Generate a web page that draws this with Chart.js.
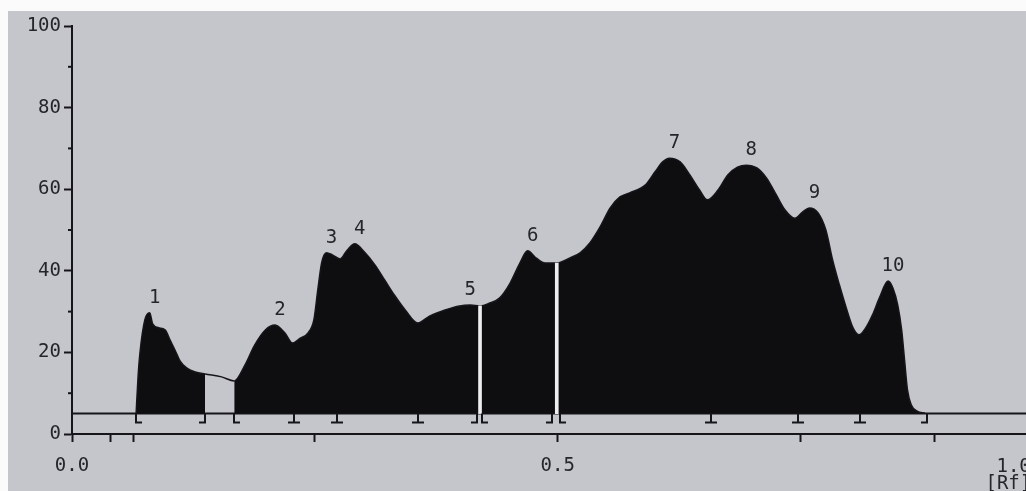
<!DOCTYPE html>
<html>
<head>
<meta charset="utf-8">
<title>Densitogram</title>
<script src="https://cdn.jsdelivr.net/npm/chart.js@4.4.1/dist/chart.umd.min.js"></script>
<style>
  html, body { margin: 0; padding: 0; background: #fbfbfb; overflow: hidden; }
  #wrap { position: absolute; left: 8px; top: 11px; width: 1018px; height: 480px; background: #c5c6cc; }
</style>
</head>
<body>
<div id="wrap"><canvas id="scan" width="1018" height="480"></canvas></div>
<script>
  // scan trace (Rf, intensity)
  const rf = [
    0.066, 0.068, 0.070, 0.075, 0.080, 0.083, 0.090, 0.096, 0.101, 0.106,
    0.111, 0.118, 0.127, 0.137, 0.154, 0.167, 0.178, 0.188, 0.199, 0.209,
    0.219, 0.227, 0.235, 0.243, 0.249, 0.253, 0.257, 0.262, 0.268, 0.276,
    0.283, 0.291, 0.301, 0.312, 0.322, 0.332, 0.343, 0.356, 0.368, 0.384,
    0.399, 0.410, 0.420, 0.430, 0.440, 0.451, 0.461, 0.469, 0.478, 0.487,
    0.499, 0.512, 0.523, 0.533, 0.543, 0.554, 0.564, 0.574, 0.590, 0.600,
    0.608, 0.615, 0.626, 0.636, 0.646, 0.654, 0.665, 0.675, 0.685, 0.694,
    0.705, 0.715, 0.725, 0.734, 0.744, 0.752, 0.759, 0.768, 0.776, 0.783,
    0.790, 0.797, 0.804, 0.810, 0.817, 0.824, 0.831, 0.840, 0.845, 0.850,
    0.854, 0.857, 0.860, 0.864, 0.870, 0.878
  ];
  const intensity = [
    5.1, 14, 20, 28, 29.7, 27, 26, 25.5, 23, 20.6,
    18, 16.2, 15.2, 14.7, 14.0, 13.0, 16.9, 21.8, 25.5, 26.7,
    24.8, 22.3, 23.5, 24.8, 28, 35.3, 42, 44.4, 43.9, 42.9,
    45, 46.6, 44.6, 41.4, 37.7, 34, 30.4, 27.2, 28.9, 30.4,
    31.4, 31.6, 31.4, 32.1, 33.3, 37, 41.9, 44.9, 43.1, 41.9,
    41.9, 43.1, 44.4, 46.8, 50.5, 55.4, 58.1, 59.1, 61, 64.2,
    66.7, 67.6, 66.7, 63.5, 59.8, 57.4, 59.8, 63.5, 65.4, 65.9,
    65.2, 62.7, 58.6, 54.9, 52.9, 54.4, 55.4, 54.2, 50, 42.6,
    36.5, 30.9, 26, 24.3, 26, 29.2, 33.3, 37.5, 35.8, 31.6,
    25.5, 18.1, 10.8, 7.1, 5.6, 5.1
  ];
  const baseline = 5;
  const gapFrom = 0.137, gapTo = 0.167; // not integrated between peak 1 and 2
  const dropRf = [0.420, 0.499];

  const peakNames = ["1", "2", "3", "4", "5", "6", "7", "8", "9", "10"];
  const peakRf = [0.080, 0.209, 0.262, 0.291, 0.410, 0.469, 0.615, 0.694, 0.759, 0.840];

  const boundaryRf = [0.066, 0.137, 0.167, 0.229, 0.273, 0.356, 0.417, 0.422, 0.494, 0.502, 0.658, 0.747, 0.811, 0.880];
  const boundaryKind = ["L", "J", "L", "T", "T", "T", "J", "L", "J", "L", "T", "T", "T", "J"];

  const yMinor = [10, 30, 50, 70, 90];
  const xTicks = [0, 0.04, 0.063, 0.25, 0.5, 0.75, 0.888];
  const xLabelled = [0, 0.5];

  const ink = "#16161a";
  const mono = '"DejaVu Sans Mono", "Liberation Mono", monospace';

  function valueAt(r) {
    let best = 0;
    rf.forEach((v, i) => {
      if (Math.abs(v - r) < Math.abs(rf[best] - r)) best = i;
    });
    return intensity[best];
  }

  const trace = rf.map((r, i) => ({ x: r, y: intensity[i] }));

  // extra marks of the printout: minor ticks, integration brackets, peak numbers, Rf label
  const printout = {
    id: "printout",
    afterDatasetsDraw(chart) {
      const { ctx, scales: { x, y } } = chart;
      ctx.save();
      ctx.strokeStyle = ink;
      ctx.lineWidth = 2;

      // minor y ticks
      yMinor.forEach((v) => {
        const py = y.getPixelForValue(v);
        ctx.beginPath();
        ctx.moveTo(x.left - 4, py);
        ctx.lineTo(x.left, py);
        ctx.stroke();
      });

      // integration brackets under the baseline
      const by = y.getPixelForValue(baseline);
      boundaryRf.forEach((r, i) => {
        const px = Math.round(x.getPixelForValue(r));
        const kind = boundaryKind[i];
        ctx.beginPath();
        ctx.moveTo(px, by);
        ctx.lineTo(px, by + 9);
        if (kind === "L") ctx.lineTo(px + 6, by + 9);
        if (kind === "J") ctx.lineTo(px - 6, by + 9);
        if (kind === "T") {
          ctx.moveTo(px - 6, by + 9);
          ctx.lineTo(px + 6, by + 9);
        }
        ctx.stroke();
      });

      // peak numbers
      ctx.fillStyle = "#25252c";
      ctx.font = "19px " + mono;
      ctx.textAlign = "center";
      ctx.textBaseline = "middle";
      peakRf.forEach((r, i) => {
        const px = x.getPixelForValue(r) + (i === 4 ? 0 : 5);
        const py = y.getPixelForValue(valueAt(r)) - 15;
        ctx.fillText(peakNames[i], px, py);
      });

      // 1.0 end label and axis unit
      const end = x.getPixelForValue(1.0);
      ctx.textAlign = "left";
      ctx.fillText("1.0", end - 47, y.bottom + 33);
      ctx.fillText("[Rf]", end - 58, y.bottom + 50);
      ctx.restore();
    }
  };

  new Chart(document.getElementById("scan"), {
    type: "line",
    data: {
      datasets: [
        {
          // white drop lines between peaks 5/6 and 6/7
          type: "bar",
          data: dropRf.map((r) => ({ x: r, y: [baseline, valueAt(r)] })),
          backgroundColor: "#eeeef0",
          barThickness: 3,
          grouped: false,
          order: 0
        },
        {
          data: trace,
          borderColor: ink,
          borderWidth: 1.5,
          backgroundColor: "#0e0e11",
          fill: { value: baseline },
          pointRadius: 0,
          cubicInterpolationMode: "monotone",
          segment: {
            backgroundColor: (c) =>
              c.p0.parsed.x >= gapFrom && c.p1.parsed.x <= gapTo ? "rgba(0,0,0,0)" : undefined
          },
          order: 1
        },
        {
          // baseline
          data: [{ x: 0, y: baseline }, { x: 1, y: baseline }],
          borderColor: ink,
          borderWidth: 2,
          pointRadius: 0,
          fill: false,
          order: 2
        }
      ]
    },
    options: {
      responsive: false,
      animation: false,
      devicePixelRatio: 1,
      layout: { padding: { top: 15, left: 0, right: 0, bottom: 0 } },
      plugins: { legend: { display: false }, tooltip: { enabled: false } },
      scales: {
        x: {
          type: "linear",
          min: 0,
          max: 0.982,
          offset: false,
          afterFit: (s) => { s.height = 57; },
          afterBuildTicks: (s) => { s.ticks = xTicks.map((v) => ({ value: v })); },
          grid: { offset: false, drawOnChartArea: false, tickLength: 8, tickWidth: 2, tickColor: ink },
          border: { color: ink, width: 2 },
          ticks: {
            autoSkip: false,
            maxRotation: 0,
            padding: 13,
            color: "#25252c",
            font: { family: mono, size: 19 },
            callback: (v) => (xLabelled.includes(v) ? v.toFixed(1) : "")
          }
        },
        y: {
          min: 0,
          max: 100,
          afterFit: (s) => { s.width = 64; },
          grid: { drawOnChartArea: false, tickLength: 8, tickWidth: 2, tickColor: ink },
          border: { color: ink, width: 2 },
          ticks: {
            stepSize: 20,
            padding: 3,
            color: "#25252c",
            font: { family: mono, size: 19 }
          }
        }
      }
    },
    plugins: [printout]
  });
</script>
</body>
</html>
